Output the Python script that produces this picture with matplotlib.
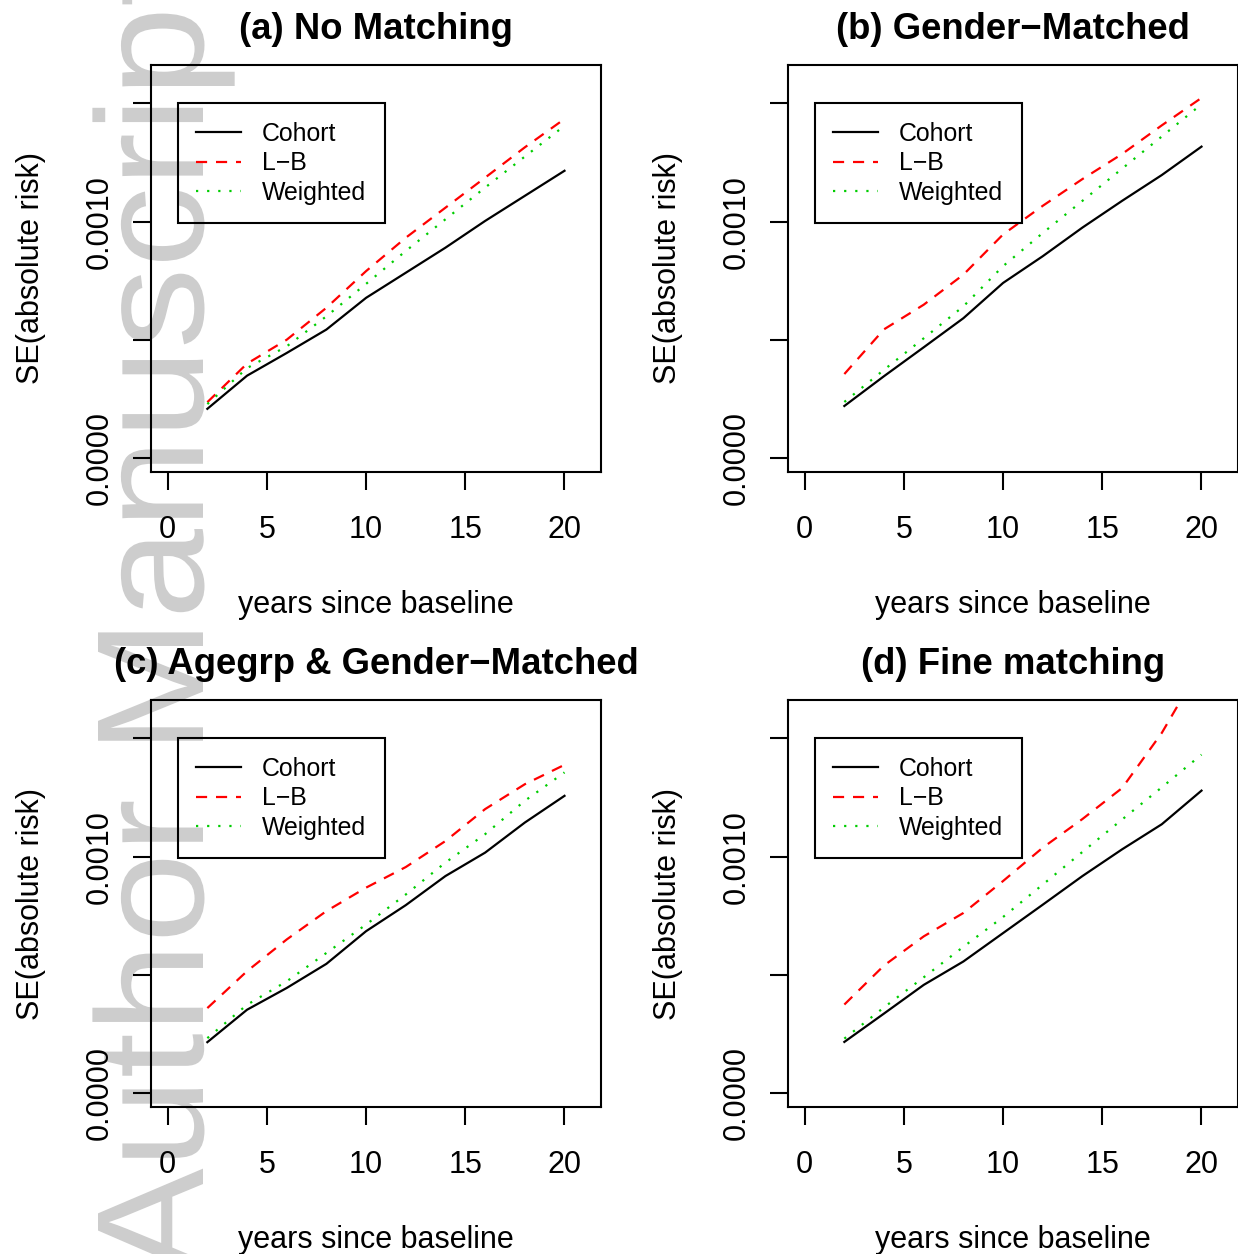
import matplotlib
matplotlib.use('Agg')
import matplotlib.pyplot as plt
from matplotlib.textpath import TextPath
from matplotlib.font_manager import FontProperties
from matplotlib.patches import PathPatch
from matplotlib.transforms import Affine2D, IdentityTransform
import numpy as np

plt.rcParams['font.family'] = ['Liberation Sans', 'DejaVu Sans']

# ---------------- data (SE values in units of 1e-3) ----------------
years = [2, 4, 6, 8, 10, 12, 14, 16, 18, 20]

titles = ["(a) No Matching", "(b) Gender\u2212Matched",
          "(c) Agegrp & Gender\u2212Matched", "(d) Fine matching"]
series_names = ["Cohort", "L\u2212B", "Weighted"]

a_cohort = [0.209, 0.349, 0.445, 0.544, 0.678, 0.784, 0.890, 1.003, 1.109, 1.215]
a_lb     = [0.237, 0.400, 0.501, 0.636, 0.791, 0.932, 1.059, 1.186, 1.314, 1.434]
a_w      = [0.229, 0.381, 0.473, 0.600, 0.737, 0.876, 1.010, 1.144, 1.275, 1.405]

b_cohort = [0.221, 0.347, 0.469, 0.592, 0.741, 0.854, 0.975, 1.088, 1.197, 1.317]
b_lb     = [0.356, 0.545, 0.649, 0.776, 0.946, 1.067, 1.180, 1.286, 1.407, 1.523]
b_w      = [0.238, 0.374, 0.507, 0.642, 0.812, 0.952, 1.088, 1.224, 1.360, 1.496]

c_cohort = [0.216, 0.353, 0.445, 0.547, 0.685, 0.795, 0.918, 1.017, 1.144, 1.257]
c_lb     = [0.360, 0.516, 0.650, 0.770, 0.869, 0.956, 1.066, 1.201, 1.306, 1.388]
c_w      = [0.233, 0.374, 0.473, 0.593, 0.713, 0.840, 0.975, 1.095, 1.236, 1.356]

d_cohort = [0.217, 0.337, 0.458, 0.557, 0.677, 0.797, 0.918, 1.031, 1.137, 1.279]
d_lb     = [0.375, 0.540, 0.663, 0.762, 0.897, 1.038, 1.159, 1.290, 1.523, 1.810]
d_w      = [0.231, 0.363, 0.490, 0.619, 0.745, 0.882, 1.020, 1.157, 1.293, 1.431]

xticks = [0, 5, 10, 15, 20]
xticklabels = ["0", "5", "10", "15", "20"]
yticks = [0.0, 0.0005, 0.0010, 0.0015]
yticklabels = ["0.0000", "", "0.0010", ""]

panels = [
    (titles[0], a_cohort, a_lb, a_w),
    (titles[1], b_cohort, b_lb, b_w),
    (titles[2], c_cohort, c_lb, c_w),
    (titles[3], d_cohort, d_lb, d_w),
]

# ---------------- figure ----------------
W, H = 1238, 1254
fig = plt.figure(figsize=(W / 100, H / 100), dpi=100)
fig.patch.set_facecolor('white')

# watermark "Author Manuscript"
fp = FontProperties(family='Liberation Sans')
tp = TextPath((0, 0), "Author Manuscript", size=100, prop=fp)
ext = tp.get_extents()
cap_h = TextPath((0, 0), "M", size=100, prop=fp).get_extents().y1
sx = 1313.0 / (ext.x1 - ext.x0)
sy = 105.0 / cap_h
tr = Affine2D().translate(-ext.x0, 0).scale(sx, sy).rotate_deg(90).translate(203, -22)
wm = PathPatch(tr.transform_path(tp), facecolor='#cdcdcd', edgecolor='none',
               transform=IdentityTransform(), zorder=-5)
fig.add_artist(wm)

box_w, box_h = 450, 407
positions = [(151, 65), (788, 65), (151, 700), (788, 700)]

colors = ['black', '#FF0000', '#00CD00']
styles = ['-', (0, (5, 4)), (0, (1, 4))]

for (title, coh, lb, wt), (left, top) in zip(panels, positions):
    ax = fig.add_axes([left / W, 1 - (top + box_h) / H, box_w / W, box_h / H])
    ax.set_facecolor('none')
    for vals, col, ls, name in zip([coh, lb, wt], colors, styles, series_names):
        ax.plot(years, np.array(vals) * 1e-3, color=col, lw=1.6, ls=ls, label=name)
    ax.set_xlim(-0.84, 21.84)
    ax.set_ylim(-0.000058, 0.001662)
    ax.set_xticks(xticks)
    ax.set_xticklabels(xticklabels)
    ax.set_yticks(yticks)
    ax.set_yticklabels(yticklabels, rotation=90, va='center')
    ax.tick_params(axis='both', length=13, width=1.5, labelsize=22, direction='out')
    ax.tick_params(axis='x', pad=18)
    ax.tick_params(axis='y', pad=13)
    for s in ax.spines.values():
        s.set_linewidth(1.5)
    ax.set_title(title, fontsize=26.3, fontweight='bold', pad=18.5)
    ax.set_xlabel('years since baseline', fontsize=22)
    ax.xaxis.set_label_coords(0.5, -0.2887)
    ax.set_ylabel('SE(absolute risk)', fontsize=22)
    ax.yaxis.set_label_coords(-0.2324, 0.5)
    leg = ax.legend(loc='upper left', bbox_to_anchor=(0.0593, 0.906), borderaxespad=0,
                    fontsize=17.9, frameon=True, fancybox=False, framealpha=1,
                    facecolor='none', edgecolor='black', handlelength=1.8,
                    handletextpad=0.85, labelspacing=0.22, borderpad=0.75)
    leg.get_frame().set_linewidth(1.5)

fig.savefig('out.png', dpi=100)
